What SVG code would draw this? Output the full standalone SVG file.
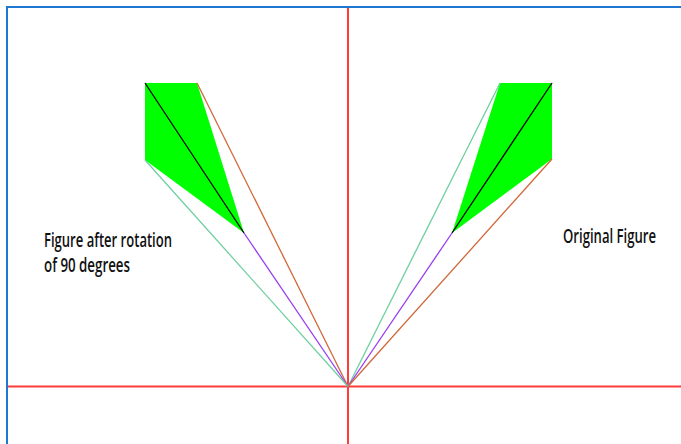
<svg xmlns="http://www.w3.org/2000/svg" width="681" height="444" viewBox="0 0 681 444">
<style>
.lbl{font-family:"Open Sans","Liberation Sans",Arial,sans-serif;font-size:19px;font-weight:600;fill:#111}
.shape{fill:#00ff00;stroke:none}
.diag{stroke:#000;stroke-width:1.3}
.teal{stroke:#6fcf9f;stroke-width:1.3}
.purple{stroke:#9a3cf0;stroke-width:1.3}
.orange{stroke:#d0683a;stroke-width:1.3}
.axis{stroke:#ff3b3b;stroke-width:2}
</style>
<rect width="681" height="444" fill="#fff"/>
<g id="border" fill="none" stroke="#1f78d0" stroke-width="2">
<polyline points="681,7 7,7 7,444"/>
</g>
<g id="axes">
<line class="axis" x1="348" y1="8" x2="348" y2="444"/>
<line class="axis" x1="8" y1="386.5" x2="681" y2="386.5"/>
</g>
<g id="original-figure">
<polygon class="shape" points="500,83 552,83 552,159 452,233"/>
<line class="diag" x1="552" y1="83" x2="452" y2="233"/>
</g>
<g id="rotated-figure">
<polygon class="shape" points="145,83 197,83 244,233 145,160"/>
<line class="diag" x1="145" y1="83" x2="244" y2="233"/>
</g>
<g id="connectors">
<line class="teal" x1="348" y1="386.5" x2="500" y2="83"/>
<line class="purple" x1="348" y1="386.5" x2="452" y2="233"/>
<line class="orange" x1="348" y1="386.5" x2="552" y2="159"/>
<line class="orange" x1="348" y1="386.5" x2="197" y2="83"/>
<line class="purple" x1="348" y1="386.5" x2="244" y2="233"/>
<line class="teal" x1="348" y1="386.5" x2="145" y2="160"/>
</g>
<g id="labels">
<text class="lbl" x="44" y="247" textLength="128" lengthAdjust="spacingAndGlyphs">Figure after rotation</text>
<text class="lbl" x="44" y="272" textLength="86" lengthAdjust="spacingAndGlyphs">of 90 degrees</text>
<text class="lbl" x="563" y="243" textLength="93" lengthAdjust="spacingAndGlyphs">Original Figure</text>
</g>
</svg>
